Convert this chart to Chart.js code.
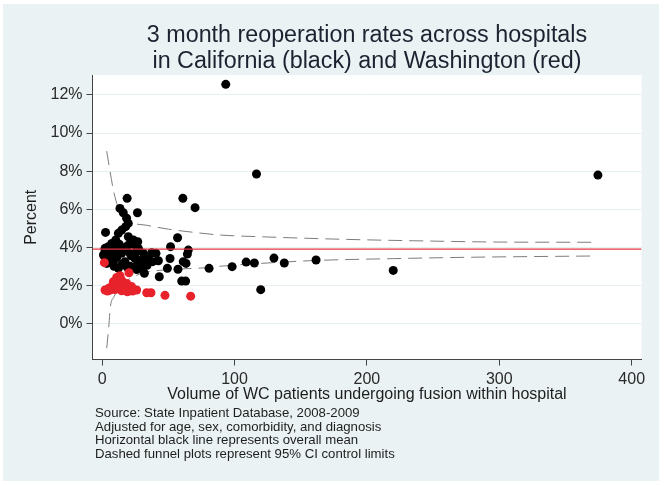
<!DOCTYPE html>
<html lang="en">
<head>
<meta charset="UTF-8">
<title>3 month reoperation rates</title>
<script src="https://cdn.jsdelivr.net/npm/chart.js"></script>
<style>
    body {
        margin: 0;
        background: #ffffff;
        font-family: "Liberation Sans", Arial, sans-serif;
    }
    #page {
        position: relative;
        width: 664px;
        height: 486px;
        overflow: hidden;
    }
    #panel {
        position: absolute;
        left: 3px;
        top: 4px;
        width: 656px;
        height: 477px;
        background: #eaf2f3;
    }
    #grafico {
        position: absolute;
        left: 0;
        top: 0;
    }
    #titulo {
        position: absolute;
        left: 92px;
        top: 21px;
        width: 550px;
        text-align: center;
        font-size: 23.3px;
        line-height: 26px;
        color: #1c2230;
    }
    #notas {
        position: absolute;
        left: 95px;
        top: 406px;
        font-size: 13.2px;
        line-height: 13.7px;
        color: #1e1e1e;
    }
</style>
</head>
<body>
<div id="page">
    <div id="panel"></div>
    <canvas id="grafico" width="664" height="486"></canvas>
    <div id="titulo">3 month reoperation rates across hospitals<br>in California (black) and Washington (red)</div>
    <div id="notas">
        Source: State Inpatient Database, 2008-2009<br>
        Adjusted for age, sex, comorbidity, and diagnosis<br>
        Horizontal black line represents overall mean<br>
        Dashed funnel plots represent 95% CI control limits
    </div>
</div>

<script>
    // hospitals: [volume, reoperation %]
    const california = [
        [93.4, 12.56], [116.6, 7.85], [374.5, 7.79], [18.9, 6.57], [61, 6.57], [70.2, 6.08],
        [26.7, 5.81], [13.5, 6.04], [16, 5.81], [18.5, 5.52], [19.8, 5.25], [17.8, 5.08],
        [14.8, 4.9], [12.3, 4.73], [2.6, 4.78], [19.8, 4.55], [23.6, 4.38], [26.9, 4.29],
        [10.3, 4.38], [7.3, 4.2], [4.7, 4.03], [2.2, 3.85], [8.5, 3.94], [13.5, 3.99],
        [18.5, 4.03], [24.8, 4.11], [1, 3.59], [2.2, 3.5], [10.3, 3.59], [21.1, 3.68],
        [26.1, 3.76], [31.9, 3.36], [37.5, 3.71], [57, 4.5], [51.7, 4.03], [40.7, 3.68],
        [65.1, 3.85], [64.4, 3.64], [51.3, 3.41], [42.5, 3.29], [38.2, 3.24], [61.3, 3.24],
        [63.4, 3.15], [49.3, 2.89], [57.3, 2.84], [80.8, 2.89], [43.2, 2.45], [60.1, 2.22],
        [63.1, 2.22], [98.2, 2.98], [108.8, 3.22], [115, 3.17], [129.8, 3.43], [137.6, 3.17],
        [161.6, 3.33], [219.9, 2.78], [119.8, 1.77],
        [2.2, 3.94], [9.8, 4.03], [19.8, 4.11], [27.4, 3.94], [6, 3.59], [14.8, 3.68],
        [31.2, 3.68], [8.5, 3.24], [17.3, 3.24], [24.8, 3.41], [29.9, 3.15], [12.3, 2.89],
        [18.6, 2.98], [26.1, 2.83], [31.9, 2.63], [4.5, 3.3], [11, 3.45], [15, 3.1],
        [21, 3.0], [6, 4.0], [16, 3.85], [11, 3.75], [22, 3.55], [28, 3.3], [34, 3.05],
        [3.5, 3.15], [9, 3.0], [20, 2.85], [35, 3.4], [13, 4.15], [5, 3.75], [30, 2.95],
        [24, 2.95]
    ];
    const washington = [
        [1.7, 3.19], [20.3, 2.66], [11, 2.41], [14.8, 2.27], [8.5, 2.19], [18.6, 2.1],
        [12.3, 2.01], [22.3, 1.93], [2.2, 1.75], [6, 1.75], [9.8, 1.78], [14.8, 1.71],
        [19.1, 1.66], [26.1, 1.75], [33.7, 1.61], [36.9, 1.61], [7.2, 1.93], [16, 1.96],
        [47.5, 1.47], [66.9, 1.43], [4, 1.7], [12, 1.85], [17, 1.8], [23, 1.7],
        [10, 2.1], [13.5, 2.5], [5, 1.85]
    ];
    // funnel limits
    const upperLimit = [
        [3.5, 9.05], [6.2, 7.9], [9, 6.85], [13, 5.95], [21, 5.35], [34, 5.15], [50, 4.95],
        [72, 4.76], [89, 4.64], [120, 4.55], [180, 4.42], [235, 4.34], [303, 4.27], [372, 4.26]
    ];
    const lowerLimit = [
        [3.5, -1.3], [5, -0.2], [6.2, 0.85], [9, 1.4], [13, 1.9], [21, 2.35], [33, 2.68],
        [50, 2.82], [80, 2.93], [89, 3.0], [120, 3.15], [160, 3.3], [220, 3.4], [275, 3.47],
        [372, 3.54]
    ];
    const meanRate = 3.9;

    const xTicks = [0, 100, 200, 300, 400];
    const yTicks = [0, 2, 4, 6, 8, 10, 12];
    const xRange = [-7.25, 407.4];
    const yRange = [-1.9, 13.05];

    const toPts = arr => arr.map(p => ({ x: p[0], y: p[1] }));
    const axisFont = { family: '"Liberation Sans", Arial, sans-serif', size: 16 };

    const plotBg = {
        id: 'plotBg',
        beforeDraw(chart) {
            const a = chart.chartArea;
            chart.ctx.save();
            chart.ctx.fillStyle = '#ffffff';
            chart.ctx.fillRect(a.left, a.top, a.right - a.left, a.bottom - a.top);
            chart.ctx.restore();
        }
    };

    const funnelStyle = {
        type: 'line',
        showLine: true,
        pointRadius: 0,
        borderColor: '#7d7d7d',
        borderWidth: 1,
        borderDash: [14, 7],
        fill: false,
        cubicInterpolationMode: 'monotone',
        order: 3
    };

    const ctx = document.getElementById('grafico').getContext('2d');
    new Chart(ctx, {
        type: 'scatter',
        data: {
            datasets: [
                {
                    label: 'Mean',
                    type: 'line',
                    data: [{ x: xRange[0], y: meanRate }, { x: xRange[1], y: meanRate }],
                    borderColor: '#e8323c',
                    borderWidth: 1.3,
                    pointRadius: 0,
                    order: 0
                },
                {
                    label: 'California',
                    data: toPts(california),
                    backgroundColor: '#000000',
                    borderWidth: 0,
                    pointRadius: 4.5,
                    order: 2
                },
                {
                    label: 'Washington',
                    data: toPts(washington),
                    backgroundColor: '#e8222b',
                    borderWidth: 0,
                    pointRadius: 4.5,
                    order: 1
                },
                Object.assign({ label: 'Upper', data: toPts(upperLimit) }, funnelStyle),
                Object.assign({ label: 'Lower', data: toPts(lowerLimit) }, funnelStyle)
            ]
        },
        options: {
            responsive: false,
            animation: false,
            layout: { padding: { top: 75, right: 22.5, bottom: 78, left: 0 } },
            plugins: {
                legend: { display: false },
                tooltip: { enabled: false }
            },
            scales: {
                x: {
                    type: 'linear',
                    min: xRange[0],
                    max: xRange[1],
                    afterFit(scale) { scale.height = 48.5; },
                    afterBuildTicks(scale) { scale.ticks = xTicks.map(v => ({ value: v })); },
                    grid: { drawOnChartArea: false, tickLength: 6, tickColor: '#444' },
                    border: { color: '#444', width: 1 },
                    ticks: { font: axisFont, color: '#2a2a2a', padding: 4, maxRotation: 0 },
                    title: {
                        display: true,
                        text: 'Volume of WC patients undergoing fusion within hospital',
                        font: axisFont,
                        color: '#1e1e1e',
                        padding: { top: 0, bottom: 3.4 }
                    }
                },
                y: {
                    type: 'linear',
                    min: yRange[0],
                    max: yRange[1],
                    afterFit(scale) { scale.width = 92.5; },
                    afterBuildTicks(scale) { scale.ticks = yTicks.map(v => ({ value: v })); },
                    grid: { color: '#e6eff1', lineWidth: 1, tickLength: 6, tickColor: '#444' },
                    border: { color: '#444', width: 1 },
                    ticks: {
                        font: axisFont,
                        color: '#2a2a2a',
                        padding: 4,
                        callback: v => v + '%'
                    },
                    title: {
                        display: true,
                        text: 'Percent',
                        font: axisFont,
                        color: '#1e1e1e',
                        padding: { top: 22.4, bottom: 0 }
                    }
                }
            }
        },
        plugins: [plotBg]
    });
</script>
</body>
</html>
